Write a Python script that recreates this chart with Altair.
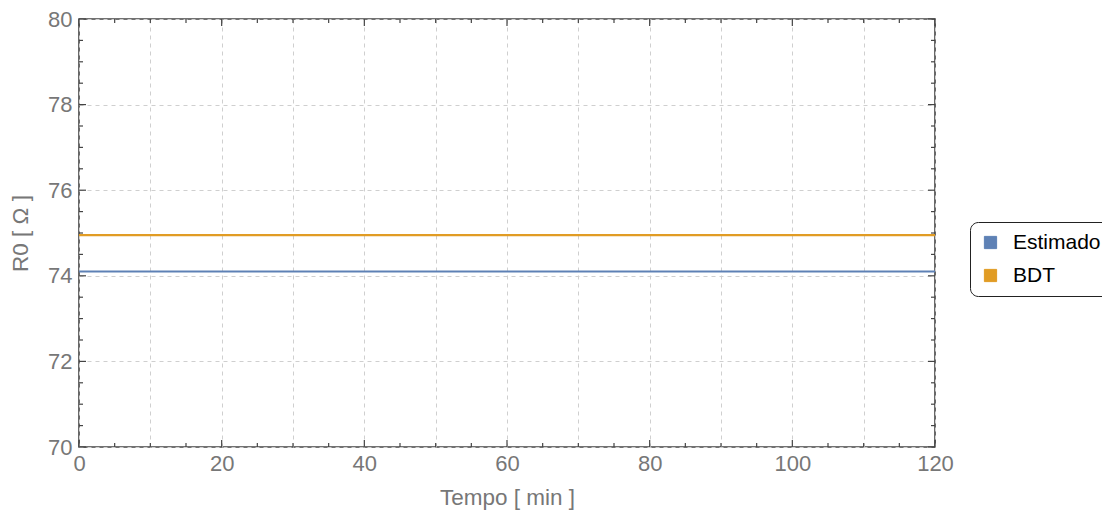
import altair as alt
import pandas as pd

# Data
tempo = [0, 10, 20, 30, 40, 50, 60, 70, 80, 90, 100, 110, 120]
estimado = [74.10, 74.10, 74.10, 74.10, 74.10, 74.10, 74.10, 74.10, 74.10, 74.10, 74.10, 74.10, 74.10]
bdt = [74.95, 74.95, 74.95, 74.95, 74.95, 74.95, 74.95, 74.95, 74.95, 74.95, 74.95, 74.95, 74.95]
series = ["Estimado", "BDT"]
colors = ["#5E81B5", "#E19C24"]

x_labels = [0, 20, 40, 60, 80, 100, 120]
x_grid = [0, 10, 20, 30, 40, 50, 60, 70, 80, 90, 100, 110, 120]
x_minor = [5, 10, 15, 25, 30, 35, 45, 50, 55, 65, 70, 75, 85, 90, 95, 105, 110, 115]
y_labels = [70, 72, 74, 76, 78, 80]
y_minor = [70.5, 71, 71.5, 72.5, 73, 73.5, 74.5, 75, 75.5, 76.5, 77, 77.5, 78.5, 79, 79.5]

W, H = 856, 428
FONT = "Liberation Sans"
GRAY = "#777777"
FRAME = "#444444"

rows = []
for t, v in zip(tempo, estimado):
    rows.append({"t": t, "v": v, "s": "Estimado"})
for t, v in zip(tempo, bdt):
    rows.append({"t": t, "v": v, "s": "BDT"})
df = pd.DataFrame(rows)

xs = alt.Scale(domain=[0, 120], nice=False, zero=False)
ys = alt.Scale(domain=[70, 80], nice=False, zero=False)

X_AX = alt.Axis(
    values=x_grid, title="Tempo [ min ]",
    labelExpr="datum.value % 20 == 0 ? datum.label : ''",
    ticks=False, domain=False, grid=True, gridDash=[4, 4], gridColor="#cfcfcf",
    labelFlush=False, labelBound=False,
    labelFont=FONT, labelFontSize=22, labelColor=GRAY, labelPadding=6,
    titleFont=FONT, titleFontSize=22.5, titleColor=GRAY, titleFontWeight="normal",
    titlePadding=12)
Y_AX = alt.Axis(
    values=y_labels, title="R0 [ Ω ]",
    ticks=False, domain=False, grid=True, gridDash=[4, 4], gridColor="#cfcfcf",
    labelFlush=False, labelBound=False,
    labelFont=FONT, labelFontSize=22, labelColor=GRAY, labelPadding=7,
    titleFont=FONT, titleFontSize=22.5, titleColor=GRAY, titleFontWeight="normal",
    titlePadding=15)

color_enc = alt.Color("s:N", scale=alt.Scale(domain=series, range=colors),
                      sort=series,
                      legend=alt.Legend(title=None, orient="none", legendX=891, legendY=203,
                                        symbolType="square", symbolSize=150,
                                        symbolStrokeWidth=1,
                                        labelFont=FONT, labelFontSize=21, labelColor="black",
                                        labelOffset=12, rowPadding=11,
                                        padding=10, cornerRadius=8,
                                        strokeColor="#222222", fillColor="white"))

lines = alt.Chart(df).mark_line(strokeWidth=2.2).encode(
    x=alt.X("t:Q", scale=xs, axis=X_AX),
    y=alt.Y("v:Q", scale=ys, axis=Y_AX),
    color=color_enc,
)

pts = alt.Chart(df).mark_point(shape="square", filled=True, opacity=1, size=0).encode(
    x=alt.X("t:Q", scale=xs, axis=X_AX),
    y=alt.Y("v:Q", scale=ys, axis=Y_AX),
    color=color_enc,
)

xmaj = pd.DataFrame({"t": x_labels})
xmin = pd.DataFrame({"t": x_minor})
ymaj = pd.DataFrame({"v": y_labels})
ymin = pd.DataFrame({"v": y_minor})

def xticks(d, L):
    b = alt.Chart(d).mark_rule(color=FRAME, strokeWidth=1.2)
    bottom = b.encode(x=alt.X("t:Q", scale=xs, axis=X_AX), y=alt.value(H), y2=alt.value(H - L))
    top = b.encode(x=alt.X("t:Q", scale=xs, axis=X_AX), y=alt.value(0), y2=alt.value(L))
    return bottom + top

def yticks(d, L):
    b = alt.Chart(d).mark_rule(color=FRAME, strokeWidth=1.2)
    left = b.encode(y=alt.Y("v:Q", scale=ys, axis=Y_AX), x=alt.value(0), x2=alt.value(L))
    right = b.encode(y=alt.Y("v:Q", scale=ys, axis=Y_AX), x=alt.value(W), x2=alt.value(W - L))
    return left + right

chart = alt.layer(
    xticks(xmaj, 7), xticks(xmin, 4),
    yticks(ymaj, 7), yticks(ymin, 4),
    lines, pts,
).properties(
    width=W, height=H,
    autosize=alt.AutoSizeParams(type="none"),
    padding={"left": 71, "top": 11, "right": 167, "bottom": 63},
).configure_view(
    stroke=FRAME, strokeWidth=1.6
)

chart.save("out.html", embed_options={"renderer": "svg", "actions": False})
